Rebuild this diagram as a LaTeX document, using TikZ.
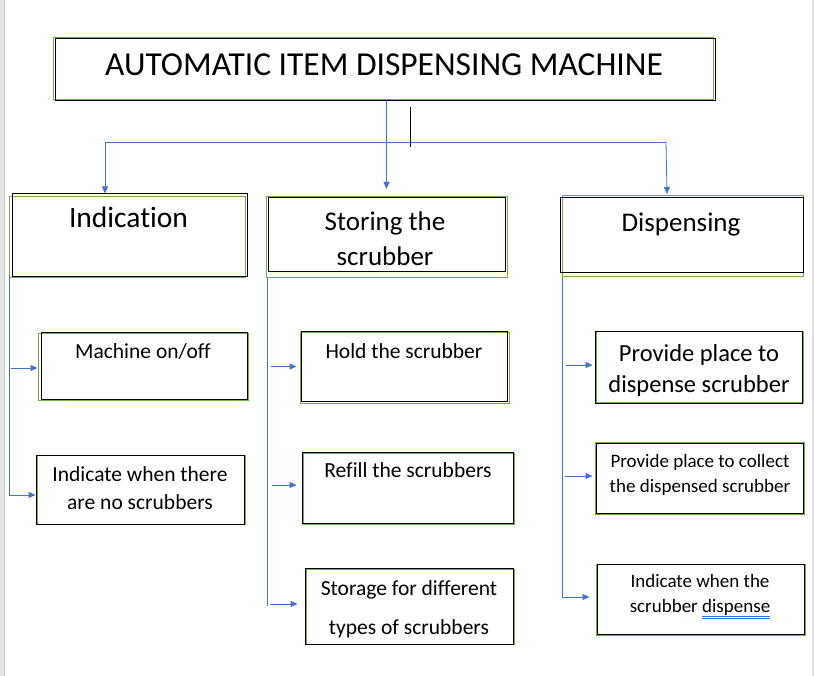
\documentclass[tikz,border=0pt]{standalone}
\usepackage{fontspec}
\setmainfont{Carlito}[Ligatures=CommonOff]
\usetikzlibrary{arrows.meta,positioning}

\definecolor{wordblue}{HTML}{4472C4}
\definecolor{wordgreen}{HTML}{70AD47}
\definecolor{spellblue}{HTML}{2F6FE0}

\tikzset{
  box/.style={draw=black, line width=1pt, inner sep=0pt},
  greenframe/.style={draw=wordgreen, line width=0.8pt},
  lbl/.style={anchor=base, inner sep=0pt, align=center},
  link/.style={draw=wordblue, line width=0.8pt, -{Triangle[length=7pt,width=6pt]}},
  trunk/.style={draw=wordblue, line width=0.8pt},
}

\newcommand{\fs}[2]{\fontsize{#1}{#2}\selectfont}

\begin{document}
\begin{tikzpicture}[x=1pt,y=-1pt]
	\useasboundingbox (0,0) rectangle (814,676);

	%page edges
	\fill[gray!20] (0,0) rectangle (4,676);
	\draw[gray!45, line width=0.8pt] (4,0) -- (4,676);
	\fill[gray!25] (812,0) rectangle (814,676);

	%green outlines behind the boxes
	\draw[greenframe] (53.5,37) rectangle (713,99);
	\draw[greenframe] (9,196) rectangle (245,277);
	\draw[greenframe] (38,333) rectangle (248,400);
	\draw[greenframe] (37,455) rectangle (245,524);
	\draw[greenframe] (266,196) rectangle (507,277);
	\draw[greenframe] (300,332) rectangle (509,403);
	\draw[greenframe] (303,453) rectangle (514,524);
	\draw[greenframe] (306,569) rectangle (514,644);
	\draw[greenframe] (562,195) rectangle (803,276);
	\draw[greenframe] (596,331) rectangle (803,402);
	\draw[greenframe] (595,442) rectangle (804,514);
	\draw[greenframe] (596,564) rectangle (805,635);

	%boxes
	\node[box, minimum width=660pt, minimum height=62pt] (title) at (385,70) {};
	\node[box, minimum width=235pt, minimum height=83pt] (ind) at (129.5,235.5) {};
	\node[box, minimum width=206pt, minimum height=66pt] (mach) at (144,366) {};
	\node[box, minimum width=208pt, minimum height=69pt] (nosc) at (140,489.5) {};
	\node[box, minimum width=237pt, minimum height=74pt] (stor) at (386.5,235) {};
	\node[box, minimum width=206pt, minimum height=69pt] (hold) at (404,366.5) {};
	\node[box, minimum width=211pt, minimum height=71pt] (refl) at (407.5,487.5) {};
	\node[box, minimum width=208pt, minimum height=76pt] (stge) at (409,606) {};
	\node[box, minimum width=243pt, minimum height=75pt] (disp) at (681.5,235.5) {};
	\node[box, minimum width=207pt, minimum height=71pt] (pdis) at (698.5,367.5) {};
	\node[box, minimum width=207pt, minimum height=70pt] (pcol) at (699.5,478) {};
	\node[box, minimum width=207pt, minimum height=70pt] (idis) at (700.5,599) {};

	%texts
	\node[lbl, font=\fs{33.5}{40}] (titletxt) at (384,75.5) {AUTOMATIC ITEM DISPENSING MACHINE};
	\node[lbl, font=\fs{29.5}{34}] (indtxt) at (128.5,228) {Indication};
	\node[lbl, font=\fs{27}{35}] (stortxt) at (385,266) {Storing the\\scrubber};
	\node[lbl, font=\fs{27}{34}] (disptxt) at (681,232) {Dispensing};
	\node[lbl, font=\fs{21.5}{28}] (machtxt) at (143,359) {Machine on/off};
	\node[lbl, font=\fs{21.5}{28}] (nosctxt) at (140,509) {Indicate when there\\are no scrubbers};
	\node[lbl, font=\fs{21.5}{28}] (holdtxt) at (404,358) {Hold the scrubber};
	\node[lbl, font=\fs{21.5}{28}] (refltxt) at (408,477) {Refill the scrubbers};
	\node[lbl, font=\fs{21.5}{39}] (stgetxt) at (409,634) {Storage for different\\types of scrubbers};
	\node[lbl, font=\fs{24.5}{31}] (pdistxt) at (699,392) {Provide place to\\dispense scrubber};
	\node[lbl, font=\fs{19}{25}] (pcoltxt) at (700,492) {Provide place to collect\\the dispensed scrubber};
	\node[lbl, font=\fs{19}{25}] (idistxt) at (700,612) {Indicate when the\\scrubber {\color{spellblue}$\underline{\underline{\hbox{\color{black}dispense}}}$}};

	%connectors from the title
	\coordinate (jl) at (105,142);
	\coordinate (jr) at (666,142);
	\coordinate (storin) at (386.5,189);
	\coordinate (dispin) at (667,194);
	\draw[link] (title.south -| storin) -- (storin);
	\draw[trunk] (jl) -- (jr);
	\draw[link] (jl) -- (ind.north -| jl);
	\draw[link] (jr) -- (dispin);

	%cursor mark
	\draw[black, line width=1pt] (410,107) -- (410,147);

	%left branch
	\coordinate (ltop) at (9,277);
	\draw[link] (ltop) |- ([yshift=-5.5pt]nosc.west);
	\draw[link, shorten >=3pt] (mach.west -| ltop) ++(2,2) -- ([yshift=-2pt]mach.west);

	%middle branch
	\coordinate (mtop) at (267,278);
	\draw[trunk] (mtop) -- (267,606);
	\draw[link, shorten >=4pt] (hold.west -| mtop) ++(4,0) -- (hold.west);
	\draw[link, shorten >=5pt] ([yshift=2.5pt]refl.west -| mtop) ++(5,0) -- ([yshift=2.5pt]refl.west);
	\draw[link, shorten >=7pt] ([yshift=2pt]stge.west -| mtop) ++(3,0) -- ([yshift=2pt]stge.west);

	%right branch
	\coordinate (rtop) at (562,277);
	\draw[link, shorten >=7pt] (rtop) |- ([yshift=2pt]idis.west);
	\draw[link, shorten >=2pt] ([yshift=2.5pt]pdis.west -| rtop) ++(4,0) -- ([yshift=2.5pt]pdis.west);
	\draw[link, shorten >=3pt] ([yshift=2pt]pcol.west -| rtop) ++(3,0) -- ([yshift=2pt]pcol.west);

\end{tikzpicture}
\end{document}
